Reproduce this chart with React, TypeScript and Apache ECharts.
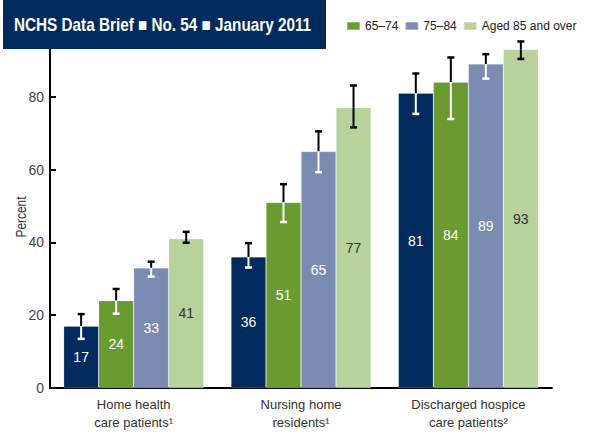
import React, { useEffect, useRef } from "react";
import * as echarts from "echarts";

const categories = ["Home health\ncare patients¹", "Nursing home\nresidents¹", "Discharged hospice\ncare patients²"];
const seriesNames = ["Under 65", "65–74", "75–84", "Aged 85 and over"];
const legendNames = ["65–74", "75–84", "Aged 85 and over"];

const under65 = [17, 36, 81];
const age6574 = [24, 51, 84];
const age7584 = [33, 65, 89];
const age85 = [41, 77, 93];

const under65Low = [13.5, 33.1, 75.3];
const under65High = [20.3, 39.8, 86.4];
const age6574Low = [20.4, 45.6, 73.9];
const age6574High = [27.2, 56.0, 90.8];
const age7584Low = [30.6, 59.3, 85.0];
const age7584High = [34.7, 70.5, 91.7];
const age85Low = [39.9, 71.6, 90.4];
const age85High = [42.9, 83.1, 95.2];

const yTicks = [0, 20, 40, 60, 80, 100];

const FONT = "'Liberation Sans', Arial, sans-serif";
const colors = ["#002B5C", "#6A9B30", "#7B8CB3", "#B8D29B"];
const labelColors = ["#ffffff", "#ffffff", "#ffffff", "#333333"];
const lowerErrColors = ["#ffffff", "#ffffff", "#ffffff", "#000000"];
const GAP = 0.163;

export default function App() {
  const ref = useRef<HTMLDivElement>(null);
  useEffect(() => {
    if (!ref.current) return;
    const chart = echarts.init(ref.current, null, { renderer: "svg" });
    const vals = [under65, age6574, age7584, age85];
    const lows = [under65Low, age6574Low, age7584Low, age85Low];
    const highs = [under65High, age6574High, age7584High, age85High];

    const barSeries = vals.map((v, k) => ({
      type: "bar",
      name: seriesNames[k],
      data: v,
      barGap: "0%",
      barCategoryGap: (GAP * 100).toFixed(1) + "%",
      itemStyle: { color: colors[k], borderColor: "rgba(255,255,255,0.35)", borderWidth: 0.6 },
      label: {
        show: true,
        position: "inside",
        color: labelColors[k],
        fontFamily: FONT,
        fontSize: 14,
      },
      z: 2,
    }));

    const errSeries = vals.map((v, k) => ({
      type: "custom",
      name: seriesNames[k] + " error",
      data: v.map((val, i) => [i, val, lows[k][i], highs[k][i]]),
      encode: { x: 0, y: 1 },
      z: 10,
      silent: true,
      renderItem: (params: any, api: any) => {
        const xi = api.value(0);
        const val = api.value(1);
        const lo = api.value(2);
        const hi = api.value(3);
        const band = api.size([1, 0])[0];
        const bw = (band * (1 - GAP)) / 4;
        const c = api.coord([xi, val]);
        const x = c[0] + (k - 1.5) * bw;
        const yv = c[1];
        const yl = api.coord([xi, lo])[1];
        const yh = api.coord([xi, hi])[1];
        const cap = 3.5;
        const up = "#000000";
        const dn = lowerErrColors[k];
        return {
          type: "group",
          children: [
            { type: "line", shape: { x1: x, y1: yh, x2: x, y2: yv }, style: { stroke: up, lineWidth: 2 } },
            { type: "line", shape: { x1: x - cap, y1: yh, x2: x + cap, y2: yh }, style: { stroke: up, lineWidth: 2.5 } },
            { type: "line", shape: { x1: x, y1: yv, x2: x, y2: yl }, style: { stroke: dn, lineWidth: 2 } },
            { type: "line", shape: { x1: x - cap, y1: yl, x2: x + cap, y2: yl }, style: { stroke: dn, lineWidth: 2.5 } },
          ],
        };
      },
    }));

    chart.setOption({
      animation: false,
      backgroundColor: "#ffffff",
      grid: { left: 50, right: 40, top: 24, bottom: 52 },
      legend: {
        data: legendNames,
        left: 346,
        top: 20,
        width: 246,
        padding: 0,
        itemWidth: 13,
        itemHeight: 8,
        itemGap: 6,
        icon: "rect",
        textStyle: { fontFamily: FONT, fontSize: 12, color: "#222" },
      },
      xAxis: {
        type: "category",
        data: categories,
        axisLine: { lineStyle: { color: "#000", width: 2 } },
        axisTick: { show: false },
        axisLabel: { fontFamily: FONT, fontSize: 13, color: "#333", lineHeight: 18, margin: 7 },
      },
      yAxis: {
        type: "value",
        min: yTicks[0],
        max: yTicks[yTicks.length - 1],
        interval: 20,
        axisLine: { show: true, lineStyle: { color: "#000", width: 2 } },
        axisTick: { show: true, inside: true, length: 6, lineStyle: { color: "#000", width: 2 } },
        splitLine: { show: false },
        axisLabel: { fontFamily: FONT, fontSize: 14, color: "#444", margin: 6 },
      },
      graphic: [
        {
          type: "rect",
          z: 100,
          shape: { x: 3, y: 0, width: 323, height: 49 },
          style: { fill: "#002B5C" },
        },
        {
          type: "text",
          z: 101,
          x: 14,
          y: 25,
          scaleX: 0.85,
          style: {
            text: "NCHS Data Brief ■ No. 54 ■ January 2011",
            fill: "#ffffff",
            fontFamily: FONT,
            fontWeight: "bold",
            fontSize: 18,
            verticalAlign: "middle",
            align: "left",
          },
        },
        {
          type: "text",
          z: 101,
          x: 21,
          y: 217,
          rotation: Math.PI / 2,
          scaleX: 0.85,
          style: {
            text: "Percent",
            fill: "#333",
            fontFamily: FONT,
            fontSize: 14,
            align: "center",
            verticalAlign: "middle",
          },
        },
      ],
      series: [...barSeries, ...errSeries],
    });
    return () => chart.dispose();
  }, []);
  return <div ref={ref} style={{ position: "absolute", left: 0, top: 0, width: 592, height: 440 }} />;
}
